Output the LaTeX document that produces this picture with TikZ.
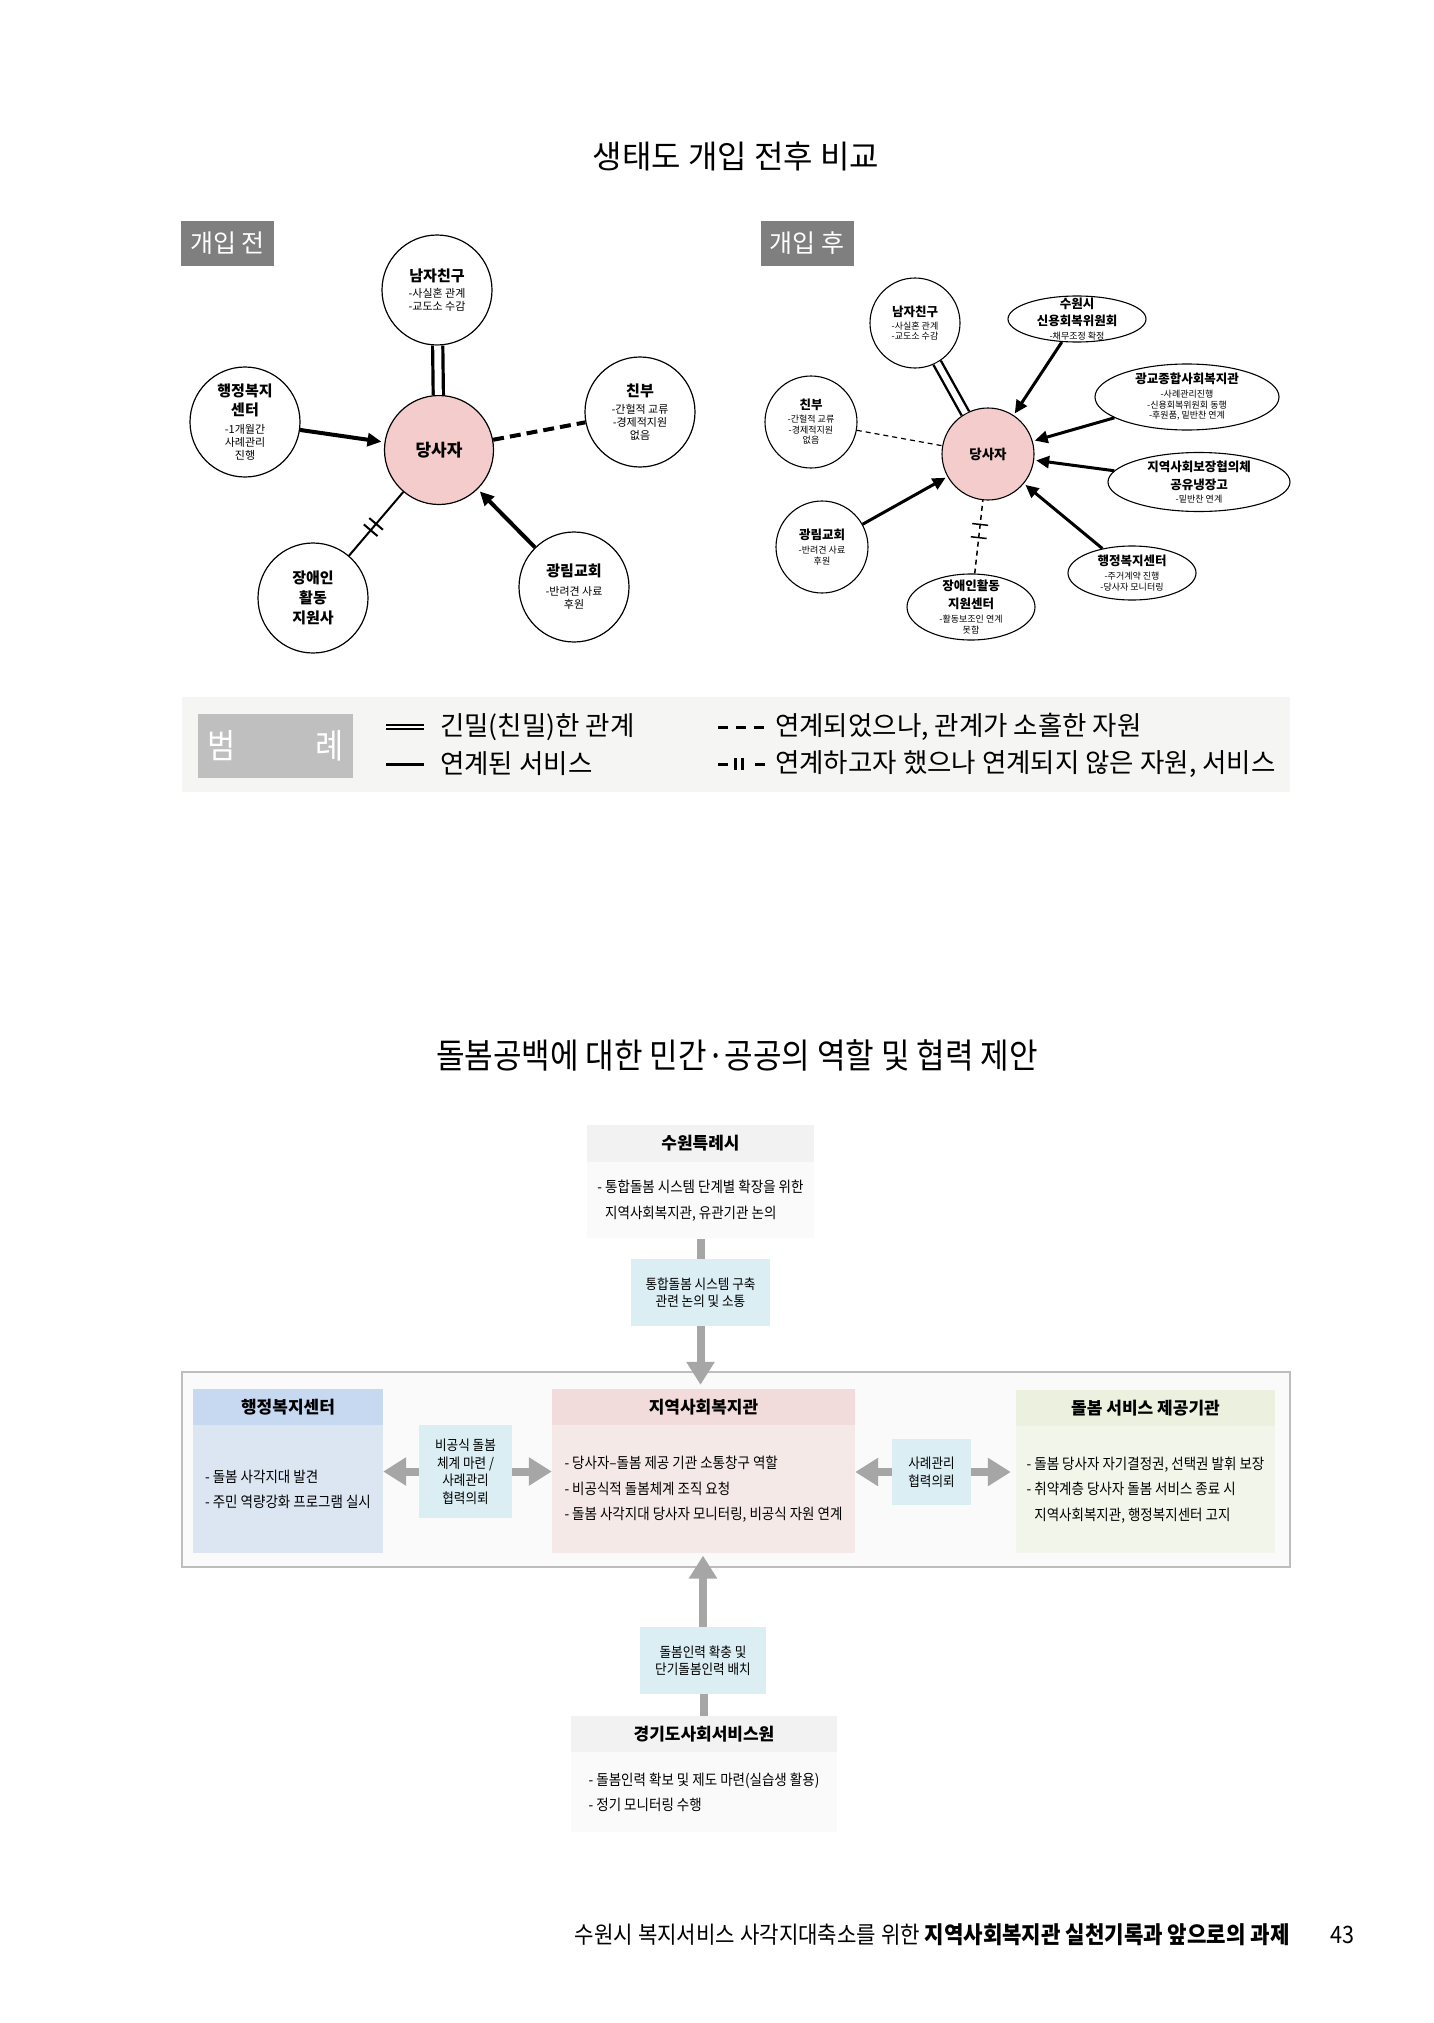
\documentclass[tikz,border=0pt]{standalone}
\usepackage{fontspec}
\setmainfont{Noto Sans CJK KR}
\newfontfamily\semifont{Noto Sans CJK KR}[FakeStretch=0.9]
\usetikzlibrary{arrows.meta,shapes.geometric,decorations.markings}

\definecolor{dangsa}{HTML}{F4CCCC}
\definecolor{tagbox}{HTML}{7F7F7F}
\definecolor{legendbg}{HTML}{F5F6F4}
\definecolor{legendtag}{HTML}{BFBFBF}
\definecolor{framebg}{HTML}{FAFAFA}
\definecolor{frameline}{HTML}{BDBDBD}
\definecolor{greyhead}{HTML}{F2F2F2}
\definecolor{greybody}{HTML}{FAFAFA}
\definecolor{bluehead}{HTML}{C6D9F1}
\definecolor{bluebody}{HTML}{DCE6F2}
\definecolor{pinkhead}{HTML}{F2DCDB}
\definecolor{pinkbody}{HTML}{F5E9E8}
\definecolor{olivehead}{HTML}{EBF1DE}
\definecolor{olivebody}{HTML}{F2F5EA}
\definecolor{notefill}{HTML}{DBEEF4}
\definecolor{flowgrey}{HTML}{A6A6A6}

\newcommand\econame[1]{{\bfseries\fontsize{15}{17}\selectfont #1}}
\newcommand\econameS[1]{{\bfseries\fontsize{12.5}{14}\selectfont #1}}

\tikzset{
  ecoL/.style={circle, draw, line width=1.2pt, minimum size=110pt, inner sep=0pt, align=center, font=\fontsize{11}{13}\selectfont},
  ecoR/.style={circle, draw, line width=1.1pt, minimum size=92pt, inner sep=0pt, align=center, font=\fontsize{9}{10.5}\selectfont},
  ecoE/.style={ecoR, ellipse, inner sep=-6pt},
  linkL/.style={-{Triangle[length=14pt,width=13pt]}, line width=4pt, shorten >=3pt},
  linkR/.style={-{Triangle[length=13pt,width=12pt]}, line width=3pt, shorten >=2pt},
  closeL/.style={double, line width=3.2pt, double distance=7pt},
  closeR/.style={double, line width=2.4pt, double distance=6pt},
  weakL/.style={line width=4pt, dash pattern=on 11pt off 6pt},
  weakR/.style={line width=1.2pt, dash pattern=on 5pt off 4pt},
  tickpair/.style n args={3}{postaction={decorate}, decoration={markings,
      mark=at position #1 with {\draw[solid] (0pt,-#3) -- (0pt,#3);},
      mark=at position #2 with {\draw[solid] (0pt,-#3) -- (0pt,#3);}}},
  tagnode/.style={fill=tagbox, text=white, minimum width=93pt, minimum height=45pt, inner sep=0pt, font=\fontsize{25}{30}\selectfont},
  legendtxt/.style={anchor=west, inner sep=0pt, font=\fontsize{26.5}{30}\selectfont},
  headbox/.style={minimum height=36pt, inner sep=0pt, font=\bfseries\fontsize{17}{20}\selectfont},
  bodybox/.style={anchor=north, inner sep=0pt, align=left, font=\semifont\fontsize{15}{25.5}\selectfont},
  notelbl/.style={fill=notefill, inner sep=0pt, align=center, font=\semifont\fontsize{14}{17.5}\selectfont},
  flowline/.style={draw=flowgrey, line width=8pt},
  flowarrow/.style={flowline, -{Triangle[length=23pt,width=27pt]}}
}

\begin{document}
\begin{tikzpicture}[x=1pt,y=-1pt]
\useasboundingbox (0,0) rectangle (1433,2023);
\fill[white] (0,0) rectangle (1433,2023);

% ecomap before / after
\node[font=\fontsize{32}{38}\selectfont] (ecotitle) at (736,156) {생태도 개입 전후 비교};
\node[tagnode] (tagpre) at (227.5,243.5) {개입 전};
\node[tagnode] (tagpost) at (807,243.5) {개입 후};

% before
\node[ecoL, fill=dangsa, minimum size=109pt, font=\bfseries\fontsize{17}{20}\selectfont] (me1) at (439,450) {당사자};
\node[ecoL] (bf1) at (437,290) {\econame{남자친구}\\[3pt]-사실혼 관계\\-교도소 수감};
\node[ecoL] (hj1) at (245,422) {\econame{행정복지}\\[4pt]\econame{센터}\\[5pt]-1개월간\\사례관리\\진행};
\node[ecoL] (fa1) at (640,412) {\econame{친부}\\[4pt]-간헐적 교류\\-경제적지원\\없음};
\node[ecoL] (da1) at (313,598) {\econame{장애인}\\[5pt]\econame{활동}\\[5pt]\econame{지원사}};
\node[ecoL] (ch1) at (574,587) {\econame{광림교회}\\[6pt]-반려견 사료\\후원};

\draw[closeL] (bf1) -- (me1);
\draw[linkL] (hj1) -- (me1);
\draw[weakL] (me1) -- (fa1);
\draw[line width=2pt, tickpair={0.40}{0.50}{9pt}] (da1) -- (me1);
\draw[linkL] (ch1) -- (me1);

% after
\node[ecoR, fill=dangsa, font=\bfseries\fontsize{13.5}{16}\selectfont] (me2) at (988,454) {당사자};
\node[ecoR, minimum size=90pt] (bf2) at (915,323) {\econameS{남자친구}\\[2.5pt]-사실혼 관계\\-교도소 수감};
\node[ecoE, minimum width=138pt, minimum height=46pt] (cr2) at (1077,319) {\econameS{수원시}\\[5pt]\econameS{신용회복위원회}\\[3.5pt]-채무조정 확정};
\node[ecoE, minimum width=184pt, minimum height=66pt] (gg2) at (1187,397) {\econameS{광교종합사회복지관}\\[3.5pt]-사례관리진행\\-신용회복위원회 동행\\-후원품, 밑반찬 연계};
\node[ecoE, minimum width=182pt, minimum height=59pt] (js2) at (1199,482) {\econameS{지역사회보장협의체}\\[5.5pt]\econameS{공유냉장고}\\[2.5pt]-밑반찬 연계};
\node[ecoE, minimum width=128pt, minimum height=54pt] (hj2) at (1132,573) {\econameS{행정복지센터}\\[3.5pt]-주거계약 진행\\-당사자 모니터링};
\node[ecoE, minimum width=128pt, minimum height=66pt] (da2) at (971,607) {\econameS{장애인활동}\\[5pt]\econameS{지원센터}\\[4pt]-활동보조인 연계\\못함};
\node[ecoR] (ch2) at (822,547) {\econameS{광림교회}\\[3.5pt]-반려견 사료\\후원};
\node[ecoR] (fa2) at (811,422) {\econameS{친부}\\[2.5pt]-간헐적 교류\\-경제적지원\\없음};

\draw[closeR] (bf2) -- (me2);
\draw[linkR] (cr2) -- (me2);
\draw[linkR] (gg2) -- (me2);
\draw[linkR] (js2) -- (me2);
\draw[linkR] (hj2) -- (me2);
\draw[linkR] (ch2) -- (me2);
\draw[weakR] (fa2) -- (me2);
\draw[weakR, line width=1.5pt, tickpair={0.49}{0.67}{8pt}] (da2) -- (me2);

% legend
\node[fill=legendbg, minimum width=1108pt, minimum height=95pt, inner sep=0pt] (legend) at (736,744.5) {};
\node[fill=legendtag, text=white, minimum width=155pt, minimum height=64pt, inner sep=0pt, font=\semifont\fontsize{34}{40}\selectfont] (legendtag) at (275.5,745.5) {범\hspace{80pt}례};

\coordinate (l1a) at (386,727); \coordinate (l1b) at (424,727);
\coordinate (l2a) at (386,764); \coordinate (l2b) at (424,764);
\coordinate (l3a) at (718,727); \coordinate (l3b) at (764,727);
\coordinate (l4a) at (718,764); \coordinate (l4b) at (765,764);
\draw[line width=1.8pt, double, double distance=2.6pt] (l1a) -- (l1b);
\draw[line width=3pt] (l2a) -- (l2b);
\draw[line width=3pt, dash pattern=on 10pt off 8pt] (l3a) -- (l3b);
\draw[line width=3pt, dash pattern=on 10pt off 27pt on 10pt, tickpair={0.37}{0.52}{6pt}] (l4a) -- (l4b);

\node[legendtxt] (lg1) at (440,727) {긴밀(친밀)한 관계};
\node[legendtxt] (lg2) at (440,764) {연계된 서비스};
\node[legendtxt] (lg3) at (775,727) {연계되었으나, 관계가 소홀한 자원};
\node[legendtxt] (lg4) at (775,764) {연계하고자 했으나 연계되지 않은 자원, 서비스};

% roles and cooperation
\node[font=\semifont\fontsize{34.5}{40}\selectfont] (flowtitle) at (737,1055) {돌봄공백에 대한 민간·공공의 역할 및 협력 제안};

\node[draw=frameline, fill=framebg, line width=1.5pt, minimum width=1108pt, minimum height=195pt, inner sep=0pt] (frame) at (736,1469.5) {};

\node[headbox, fill=greyhead, minimum width=227pt, minimum height=37pt] (sw) at (700.5,1143.5) {수원특례시};
\node[bodybox, fill=greybody, minimum width=227pt, minimum height=76pt] (swb) at (sw.south) {- 통합돌봄 시스템 단계별 확장을 위한\\\phantom{- }지역사회복지관, 유관기관 논의};

\node[headbox, fill=bluehead, minimum width=190pt] (hj) at (288,1407) {행정복지센터};
\node[bodybox, fill=bluebody, minimum width=190pt, minimum height=128pt] (hjb) at (hj.south) {- 돌봄 사각지대 발견\\- 주민 역량강화 프로그램 실시};

\node[headbox, fill=pinkhead, minimum width=303pt] (jy) at (703.5,1407) {지역사회복지관};
\node[bodybox, fill=pinkbody, minimum width=303pt, minimum height=128pt] (jyb) at (jy.south) {- 당사자–돌봄 제공 기관 소통창구 역할\\- 비공식적 돌봄체계 조직 요청\\- 돌봄 사각지대 당사자 모니터링, 비공식 자원 연계};

\node[headbox, fill=olivehead, minimum width=259pt] (ds) at (1145.5,1408) {돌봄 서비스 제공기관};
\node[bodybox, fill=olivebody, minimum width=259pt, minimum height=127pt] (dsb) at (ds.south) {- 돌봄 당사자 자기결정권, 선택권 발휘 보장\\- 취약계층 당사자 돌봄 서비스 종료 시\\\phantom{- }지역사회복지관, 행정복지센터 고지};

\node[headbox, fill=greyhead, minimum width=266pt] (gg) at (704,1734) {경기도사회서비스원};
\node[bodybox, fill=greybody, minimum width=266pt, minimum height=80pt] (ggb) at (gg.south) {- 돌봄인력 확보 및 제도 마련(실습생 활용)\\- 정기 모니터링 수행};

\node[notelbl, minimum width=139pt, minimum height=67pt] (nt1) at (700.5,1292.5) {통합돌봄 시스템 구축\\관련 논의 및 소통};
\node[notelbl, minimum width=93pt, minimum height=93pt] (nt2) at (465.5,1471.5) {비공식 돌봄\\체계 마련 /\\사례관리\\협력의뢰};
\node[notelbl, minimum width=79pt, minimum height=66pt] (nt3) at (931.5,1472) {사례관리\\협력의뢰};
\node[notelbl, minimum width=126pt, minimum height=67pt] (nt4) at (703,1660.5) {돌봄인력 확충 및\\단기돌봄인력 배치};

% grey arrows
\draw[flowline] (swb.south) -- (swb.south |- nt1.north);
\draw[flowarrow, shorten >=4pt] (nt1.south) -- (nt1.south |- jy.north);
\draw[flowline] (gg.north) -- (gg.north |- nt4.south);
\draw[flowarrow, shorten >=2pt] (nt4.north) -- (nt4.north |- jyb.south);
\draw[flowarrow] (nt2.west) -- (nt2.west -| hjb.east);
\draw[flowarrow] (nt2.east) -- (nt2.east -| jyb.west);
\draw[flowarrow] (nt3.west) -- (nt3.west -| jyb.east);
\draw[flowarrow, shorten >=5pt] (nt3.east) -- (nt3.east -| dsb.west);

% footer
\node[anchor=east, font=\semifont\fontsize{23.5}{28}\selectfont] (footer) at (1293,1935) {수원시 복지서비스 사각지대축소를 위한 \textbf{지역사회복지관 실천기록과 앞으로의 과제}};
\node[font=\semifont\fontsize{24}{28}\selectfont] (pageno) at (1342,1935) {43};
\end{tikzpicture}
\end{document}
